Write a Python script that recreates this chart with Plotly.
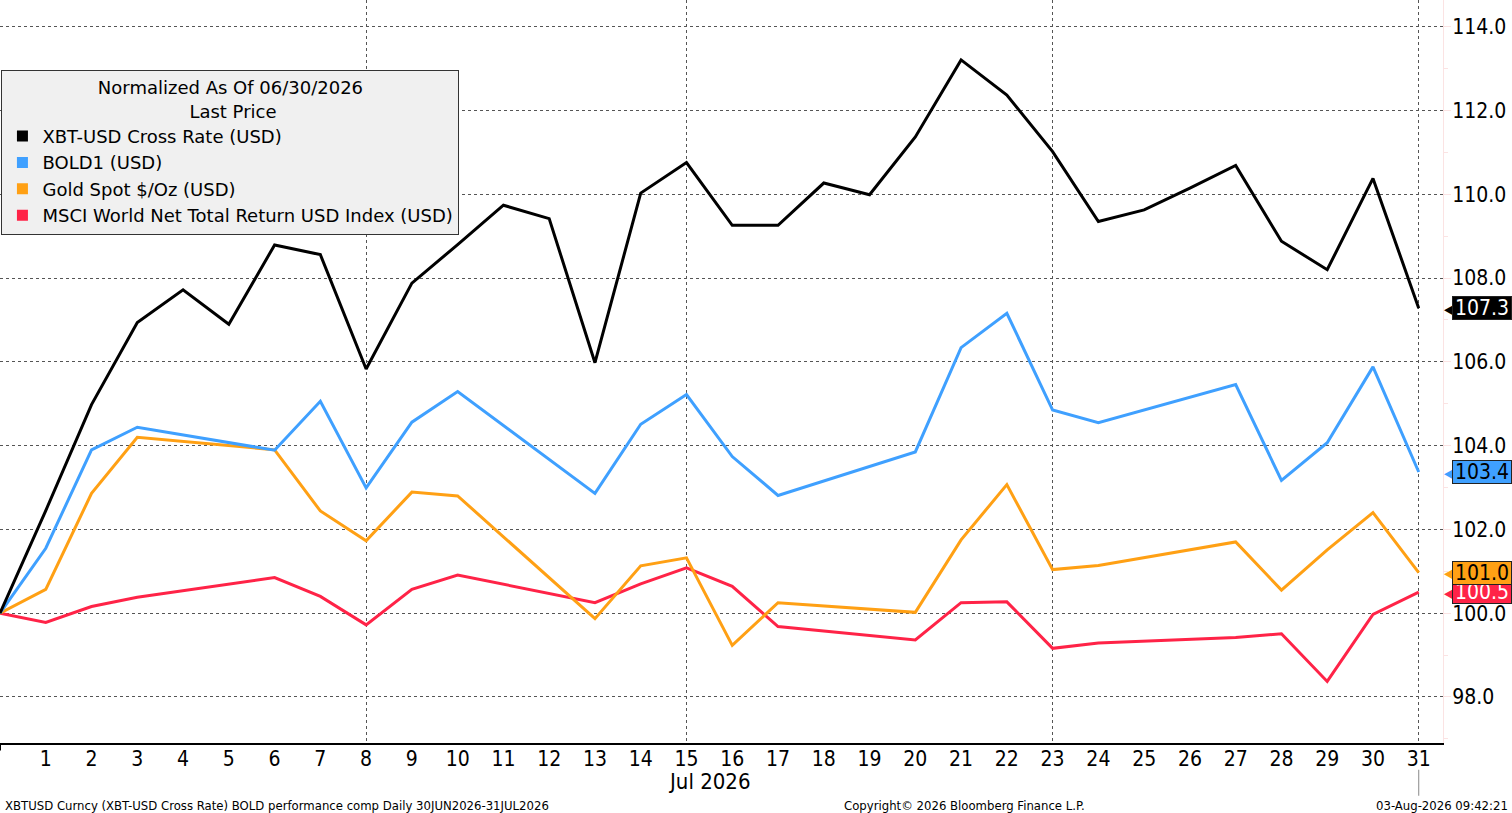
import plotly.graph_objects as go

# days of July 2026 (0 = 30 Jun, base date)
xbt_days = list(range(0, 32))
xbt = [100.0, 102.45, 104.98, 106.94, 107.72, 106.90, 108.79, 108.56, 105.83, 107.88,
       108.80, 109.74, 109.42, 105.98, 110.03, 110.76, 109.26, 109.26, 110.27, 109.99,
       111.37, 113.21, 112.37, 111.02, 109.35, 109.63, 110.15, 110.69, 108.88, 108.20,
       110.38, 107.28]

trade_days = [0, 1, 2, 3, 6, 7, 8, 9, 10, 13, 14, 15, 16, 17, 20, 21, 22, 23, 24,
              27, 28, 29, 30, 31]
bold = [100.0, 101.55, 103.90, 104.44, 103.89, 105.06, 102.99, 104.56, 105.29, 102.86,
        104.51, 105.22, 103.74, 102.81, 103.85, 106.34, 107.16, 104.85, 104.55, 105.46,
        103.17, 104.07, 105.88, 103.37]
gold = [100.0, 100.57, 102.86, 104.20, 103.90, 102.44, 101.73, 102.89, 102.80, 99.87,
        101.13, 101.32, 99.23, 100.25, 100.02, 101.75, 103.07, 101.04, 101.14, 101.70,
        100.55, 101.51, 102.40, 100.97]
msci = [100.0, 99.78, 100.16, 100.38, 100.85, 100.40, 99.72, 100.57, 100.91, 100.25,
        100.70, 101.08, 100.64, 99.68, 99.36, 100.25, 100.27, 99.16, 99.29, 99.42,
        99.51, 98.37, 99.97, 100.50]

names = ['XBT-USD Cross Rate (USD)', 'BOLD1 (USD)', 'Gold Spot $/Oz (USD)',
         'MSCI World Net Total Return USD Index (USD)']
colors = ['#000000', '#3fa0ff', '#ffa014', '#ff2347']
tag_text = ['white', 'black', 'black', 'white']

tick_days = list(range(1, 32))
grid_days = [0, 8, 15, 23, 31]

FONT = 'DejaVu Sans Condensed, DejaVu Sans, sans-serif'
LFONT = 'DejaVu Sans, sans-serif'

series = [(xbt_days, xbt), (trade_days, bold), (trade_days, gold), (trade_days, msci)]

fig = go.Figure()

# legend entries with square markers
for name, col in zip(names, colors):
    fig.add_trace(go.Scatter(x=[None], y=[None], mode='markers', name=name,
                             marker=dict(symbol='square', size=11, color=col)))

# draw lines, red on bottom like the original stacking
for (xs, ys), name, col in reversed(list(zip(series, names, colors))):
    fig.add_trace(go.Scatter(x=xs, y=ys, mode='lines', name=name, showlegend=False,
                             line=dict(color=col, width=3), hoverinfo='skip'))

# last value tags on the right axis (upper tags drawn last)
for (xs, ys), col, tc in reversed(list(zip(series, colors, tag_text))):
    fig.add_annotation(x=1, xref='paper', y=ys[-1], yref='y', xanchor='left',
                       text='◀', showarrow=False, xshift=-1,
                       font=dict(family=FONT, size=18, color=col))
    fig.add_annotation(x=1, xref='paper', y=ys[-1], yref='y', xanchor='left',
                       text='%.1f' % ys[-1], showarrow=False, xshift=9,
                       bgcolor=col, bordercolor='#222', borderwidth=1, borderpad=0,
                       width=58, height=22, align='center',
                       font=dict(family=FONT, size=21, color=tc))

fig.add_annotation(x=15.5, xref='x', y=-0.032, yref='paper', yanchor='top',
                   text='Jul 2026', showarrow=False,
                   font=dict(family=FONT, size=22, color='black'))

# footer
fig.add_annotation(x=0.002, xref='paper', y=-0.071, yref='paper', xanchor='left', yanchor='top',
                   text='XBTUSD Curncy (XBT-USD Cross Rate) BOLD performance comp Daily 30JUN2026-31JUL2026',
                   showarrow=False, font=dict(family=FONT, size=13, color='black'))
fig.add_annotation(x=964 / 1443, xref='paper', y=-0.071, yref='paper', xanchor='center',
                   yanchor='top', text='Copyright© 2026 Bloomberg Finance L.P.',
                   showarrow=False, font=dict(family=FONT, size=13, color='black'))
fig.add_annotation(x=1510 / 1443, xref='paper', y=-0.071, yref='paper', xanchor='right',
                   yanchor='top', text='03-Aug-2026 09:42:21',
                   showarrow=False, font=dict(family=FONT, size=13, color='black'))

# month separators below the axis
fig.add_shape(type='line', x0=xbt_days[-1], x1=xbt_days[-1], xref='x',
              y0=-0.036, y1=-0.071, yref='paper', line=dict(color='#888', width=1))
fig.add_shape(type='line', x0=xbt_days[0], x1=xbt_days[0], xref='x',
              y0=0, y1=-0.01, yref='paper', line=dict(color='black', width=2))

pad = '\u00a0' * 16
fig.update_layout(
    width=1512, height=813,
    margin=dict(l=0, r=69, t=0, b=70),
    plot_bgcolor='white', paper_bgcolor='white',
    font=dict(family=FONT, color='black'),
    legend=dict(
        x=0.001, y=1 - 70 / 743, xanchor='left', yanchor='top',
        bgcolor='#f0f0f0', bordercolor='#333', borderwidth=1,
        font=dict(family=LFONT, size=18, color='black'),
        title=dict(text='Normalized As Of 06/30/2026<br>' + pad + 'Last Price',
                   side='top center',
                   font=dict(family=LFONT, size=18, color='black')),
        itemwidth=30, tracegroupgap=0,
    ),
    showlegend=True,
)

fig.update_xaxes(
    range=[0, 31.53], tickvals=tick_days, ticktext=[str(d) for d in tick_days],
    showgrid=False, zeroline=False, automargin=False,
    showline=True, linecolor='black', linewidth=1.5,
    ticks='', ticklabelstandoff=-4,
    tickfont=dict(family=FONT, size=21, color='black'),
    minor=dict(tickmode='array', tickvals=grid_days, showgrid=True,
               gridcolor='#555', griddash='dot', gridwidth=1, ticks=''),
)
fig.update_yaxes(
    side='right', range=[96.9, 114.64], dtick=2, tick0=98, tickformat='.1f',
    showgrid=True, gridcolor='#555', griddash='dot', gridwidth=1, zeroline=False,
    showline=True, linecolor='#fbe3e3', linewidth=1, automargin=False,
    ticks='outside', ticklen=7, tickcolor='#fbe3e3', ticklabelstandoff=-3,
    minor=dict(dtick=1, ticks='outside', ticklen=4, tickcolor='#fbe3e3'),
    tickfont=dict(family=FONT, size=21, color='black'),
)

fig.write_html("out.html", config={'displayModeBar': False},
               post_script="document.body.style.margin='0';")
